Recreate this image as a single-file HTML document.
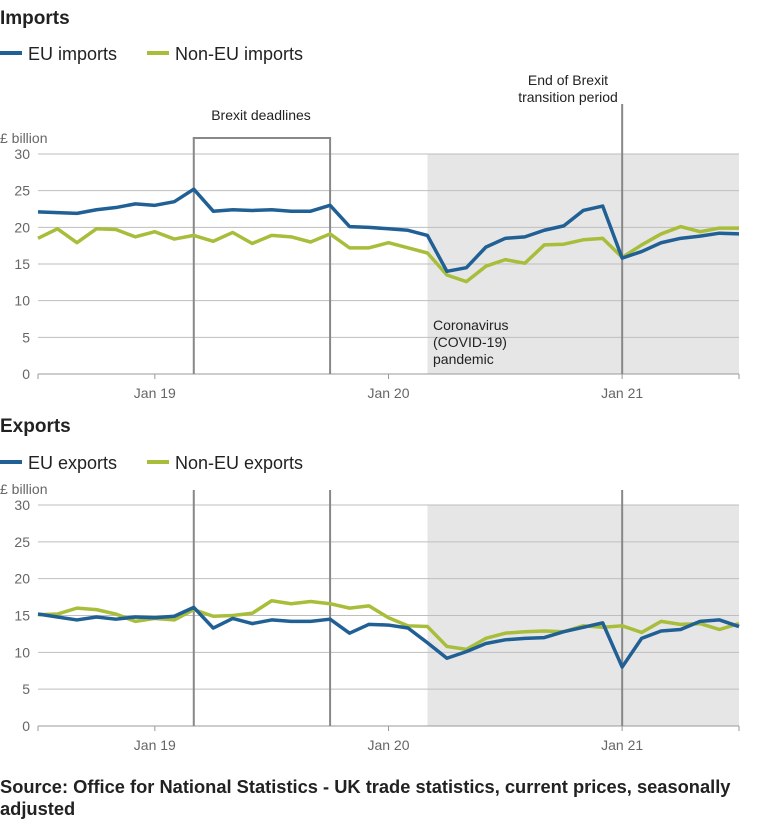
<!DOCTYPE html>
<html><head><meta charset="utf-8">
<style>
body{margin:0;background:#fff;font-family:"Liberation Sans",sans-serif;}
svg text{font-family:"Liberation Sans",sans-serif;}
</style></head>
<body>
<svg id="c" width="771" height="835" xmlns="http://www.w3.org/2000/svg">
<text x="0" y="24" font-size="19" font-weight="bold" fill="#222">Imports</text>
<g>
<rect x="0" y="51" width="22" height="4" fill="#206095"/>
<text x="28" y="60" font-size="18" fill="#222">EU imports</text>
<rect x="147" y="51" width="22" height="4" fill="#a8bd3a"/>
<text x="175" y="60" font-size="18" fill="#222">Non-EU imports</text>
</g>
<text x="0" y="432" font-size="19" font-weight="bold" fill="#222">Exports</text>
<g>
<rect x="0" y="460" width="22" height="4" fill="#206095"/>
<text x="28" y="469" font-size="18" fill="#222">EU exports</text>
<rect x="147" y="460" width="22" height="4" fill="#a8bd3a"/>
<text x="175" y="469" font-size="18" fill="#222">Non-EU exports</text>
</g>
<text x="0" y="793" font-size="18.3" font-weight="bold" fill="#222">Source: Office for National Statistics - UK trade statistics, current prices, seasonally</text>
<text x="0" y="815" font-size="18.3" font-weight="bold" fill="#222">adjusted</text>
</svg>
<script>
const months = [];
for (let i = 0; i < 37; i++) months.push(i); // Jul 2018 .. Jul 2021
const xTickLabels = ["Jan 19","Jan 20","Jan 21"];
const xTickIndex = [6,18,30];
const yTicks = [0,5,10,15,20,25,30];
const euImports = [22.1,22.0,21.9,22.4,22.7,23.2,23.0,23.5,25.2,22.2,22.4,22.3,22.4,22.2,22.2,23.0,20.1,20.0,19.8,19.6,18.9,14.0,14.5,17.3,18.5,18.7,19.6,20.2,22.3,22.9,15.8,16.7,17.9,18.5,18.8,19.2,19.1];
const nonEuImports = [18.5,19.8,17.9,19.8,19.7,18.7,19.4,18.4,18.9,18.1,19.3,17.8,18.9,18.7,18.0,19.1,17.2,17.2,17.9,17.2,16.5,13.5,12.6,14.7,15.6,15.1,17.6,17.7,18.3,18.5,15.9,17.6,19.1,20.1,19.4,19.9,19.9];
const euExports = [15.2,14.8,14.4,14.8,14.5,14.8,14.7,14.9,16.1,13.3,14.6,13.9,14.4,14.2,14.2,14.5,12.6,13.8,13.7,13.3,11.3,9.2,10.1,11.2,11.7,11.9,12.0,12.8,13.4,14.0,8.0,11.9,12.9,13.1,14.2,14.4,13.5];
const nonEuExports = [15.1,15.2,16.0,15.8,15.2,14.2,14.6,14.4,15.8,14.9,15.0,15.3,17.0,16.6,16.9,16.6,16.0,16.3,14.7,13.6,13.5,10.8,10.4,11.9,12.6,12.8,12.9,12.8,13.6,13.4,13.6,12.7,14.2,13.8,13.9,13.1,13.9];
const brexitIdx = [8,15];
const transitionIdx = 30;
const covidStartIdx = 20;

const NS = "http://www.w3.org/2000/svg";
const svg = document.getElementById("c");
const x = i => 38 + i * (739 - 38) / 36;
function mk(tag, attrs, parent) {
  const e = document.createElementNS(NS, tag);
  for (const k in attrs) e.setAttribute(k, attrs[k]);
  (parent || svg).appendChild(e);
  return e;
}
function panel(top, bottom, lineTop, s1, s2, name) {
  const y = v => bottom - v * (bottom - top) / 30;
  const g = mk("g", {});
  
  
  const sh = mk("rect", {x: x(covidStartIdx), y: top, width: x(36) - x(covidStartIdx), height: bottom - top, fill: "#e6e6e6"}, g);
  
  
  yTicks.forEach(t => {
    const l = mk("line", {x1: 38, x2: 739, y1: y(t), y2: y(t), stroke: t === 0 ? "#999" : "#bebebe", "stroke-width": 1}, g);
    
    
    const tx = mk("text", {x: 30, y: y(t) + 5, "text-anchor": "end", "font-size": 14, fill: "#666"}, g);
    tx.textContent = t;
    
    
  });
  const ya = mk("text", {x: 0, y: top - 11, "font-size": 14, fill: "#666"}, g);
  ya.textContent = "£ billion";
  
  
  [0, 6, 18, 30, 36].forEach(i => {
    const tk = mk("line", {x1: x(i), x2: x(i), y1: bottom, y2: bottom + 5, stroke: "#999"}, g);
    
    
  });
  xTickIndex.forEach((i, k) => {
    const tx = mk("text", {x: x(i), y: bottom + 24, "text-anchor": "middle", "font-size": 14, fill: "#666"}, g);
    tx.textContent = xTickLabels[k];
    
    
  });
  [brexitIdx[0], brexitIdx[1], transitionIdx].forEach((i, k) => {
    const l = mk("line", {x1: x(i), x2: x(i), y1: k < 2 ? lineTop : (name === 'imports' ? 104 : lineTop), y2: bottom, stroke: "#888", "stroke-width": 2}, g);
    
    
  });
  [[s2, "#a8bd3a", "non-eu"], [s1, "#206095", "eu"]].forEach(([s, c, n]) => {
    const p = mk("polyline", {points: s.map((v, i) => x(i) + "," + y(v)).join(" "), fill: "none", stroke: c, "stroke-width": 3.5, "stroke-linejoin": "round"}, g);
    
    
  });
}
panel(154, 374, 138, euImports, nonEuImports, "imports");
panel(505, 726, 490, euExports, nonEuExports, "exports");

const bt = mk("line", {x1: x(brexitIdx[0]) - 1, x2: x(brexitIdx[1]) + 1, y1: 138, y2: 138, stroke: "#888", "stroke-width": 2});


function label(txt, xx, yy, anchor, name) {
  const t = mk("text", {x: xx, y: yy, "text-anchor": anchor, "font-size": 14, fill: "#222"});
  t.textContent = txt;
  
  
}
label("Brexit deadlines", 261, 120, "middle", "brexit-deadlines-label");
label("End of Brexit", 568, 85, "middle", "transition-label");
label("transition period", 568, 102, "middle", "transition-label-2");
label("Coronavirus", 433, 330, "start", "covid-label");
label("(COVID-19)", 433, 347, "start", "covid-label-2");
label("pandemic", 433, 364, "start", "covid-label-3");
</script>
</body></html>
